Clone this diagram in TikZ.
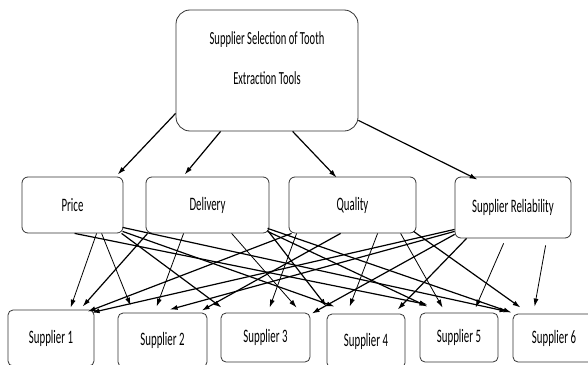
\documentclass[tikz,border=0pt]{standalone}
\usepackage{fontspec}
\setmainfont{Carlito}[FakeStretch=0.57]
\usetikzlibrary{arrows.meta,calc}
\begin{document}
\begin{tikzpicture}[x=1pt,y=-1pt,
  box/.style={draw=black!80, line width=0.8pt, rounded corners=6pt, inner sep=0pt,
              font=\fontsize{19}{21}\selectfont},
  sbox/.style={box, rounded corners=5pt},
  arr/.style={-{Latex[length=8pt,width=5pt]}, line width=1.2pt},
  tarr/.style={-{Latex[length=8pt,width=5pt]}, line width=0.8pt}]
\useasboundingbox (0,0) rectangle (588,364);
% top
\node[box, rounded corners=14pt, minimum width=182pt, minimum height=121pt, align=center,
      font=\fontsize{18.5}{40}\selectfont, text depth=24pt] (top) at (267,70.5)
      {Supplier Selection of Tooth\\Extraction Tools};
% criteria
\node[box, minimum width=101pt, minimum height=56pt] (price) at (72.5,205) {Price};
\node[box, minimum width=123pt, minimum height=56pt] (delivery) at (207.5,205) {Delivery};
\node[box, minimum width=127pt, minimum height=56pt] (quality) at (352.5,205) {Quality};
\node[box, minimum width=116pt, minimum height=61pt] (sr) at (513,207.5) {Supplier Reliability};
% suppliers
\node[sbox, minimum width=86pt, minimum height=56pt] (s1) at (51,338) {Supplier 1};
\node[sbox, minimum width=89pt, minimum height=54pt] (s2) at (162.5,340) {Supplier 2};
\node[sbox, minimum width=89pt, minimum height=49pt] (s3) at (265.5,337.5) {Supplier 3};
\node[sbox, minimum width=78pt, minimum height=54pt] (s4) at (366,341) {Supplier 4};
\node[sbox, minimum width=78pt, minimum height=49pt] (s5) at (459,337.5) {Supplier 5};
\node[sbox, minimum width=82pt, minimum height=48pt] (s6) at (554,338) {Supplier 6};
% top arrows
\draw[arr] ($(top.south west)+(0,-18)$) -- ($(price.north west)+(96,-2)$);
\draw[arr] ($(top.south west)+(45,0)$) -- ($(delivery.north west)+(39,-2)$);
\draw[arr] ($(top.south west)+(117,0)$) -- ($(quality.north west)+(48,1)$);
\draw[arr] ($(top.south east)+(0,-11)$) -- ($(sr.north west)+(23,3)$);
% price
\draw[tarr] ($(price.south west)+(75,0)$) -- ($(s1.north west)+(63,-2)$);
\draw[tarr] ($(price.south west)+(80,0)$) -- ($(s2.north west)+(13,-7)$);
\draw[arr] ($(price.south west)+(100,0)$) -- ($(s3.north west)+(1,-5)$);
\draw[arr] ($(price.south west)+(101,-2)$) -- ($(s4.north west)+(8,-7)$);
\draw[arr] ($(price.south west)+(53,0)$) -- ($(s5.north west)+(8,-8)$);
\draw[arr] ($(price.south west)+(101,-6)$) -- ($(s6.north west)+(-5,-2)$);
% delivery
\draw[arr] ($(delivery.south west)+(2,0)$) -- ($(s1.north west)+(75,-3)$);
\draw[tarr] ($(delivery.south west)+(38,0)$) -- ($(s2.north west)+(39,-6)$);
\draw[tarr] ($(delivery.south west)+(86,0)$) -- ($(s3.north west)+(76,-5)$);
\draw[arr] ($(delivery.south west)+(122,-3)$) -- ($(s4.north west)+(0,-7)$);
\draw[arr] ($(delivery.south west)+(122,-2)$) -- ($(s5.north west)+(8,-6)$);
\draw[arr] ($(delivery.south west)+(122,-5)$) -- ($(s6.north west)+(-1,-1)$);
% quality
\draw[arr] ($(quality.south west)+(3,0)$) -- ($(s1.north west)+(80,2)$);
\draw[arr] ($(quality.south west)+(52,0)$) -- ($(s2.north west)+(84,-2)$);
\draw[tarr] ($(quality.south west)+(8,0)$) -- ($(s3.north west)+(49,-5)$);
\draw[tarr] ($(quality.south west)+(89,0)$) -- ($(s4.north west)+(23,-7)$);
\draw[tarr] ($(quality.south west)+(112,0)$) -- ($(s5.north west)+(23,-5)$);
\draw[arr] ($(quality.south west)+(125,-2)$) -- ($(s6.north west)+(8,-6)$);
% supplier reliability
\draw[arr] ($(sr.south west)+(0,-9)$) -- ($(s1.north west)+(84,3)$);
\draw[arr] ($(sr.south west)+(0,-7)$) -- ($(s2.north west)+(52,-3)$);
\draw[arr] ($(sr.south west)+(0,-4)$) -- ($(s3.north west)+(91,1)$);
\draw[arr] ($(sr.south west)+(12,0)$) -- ($(s4.north west)+(71,-4)$);
\draw[tarr] ($(sr.south west)+(49,5)$) -- ($(s5.north west)+(56,-5)$);
\draw[tarr] ($(sr.south west)+(91,7)$) -- ($(s6.north west)+(22,-7)$);
\end{tikzpicture}
\end{document}
